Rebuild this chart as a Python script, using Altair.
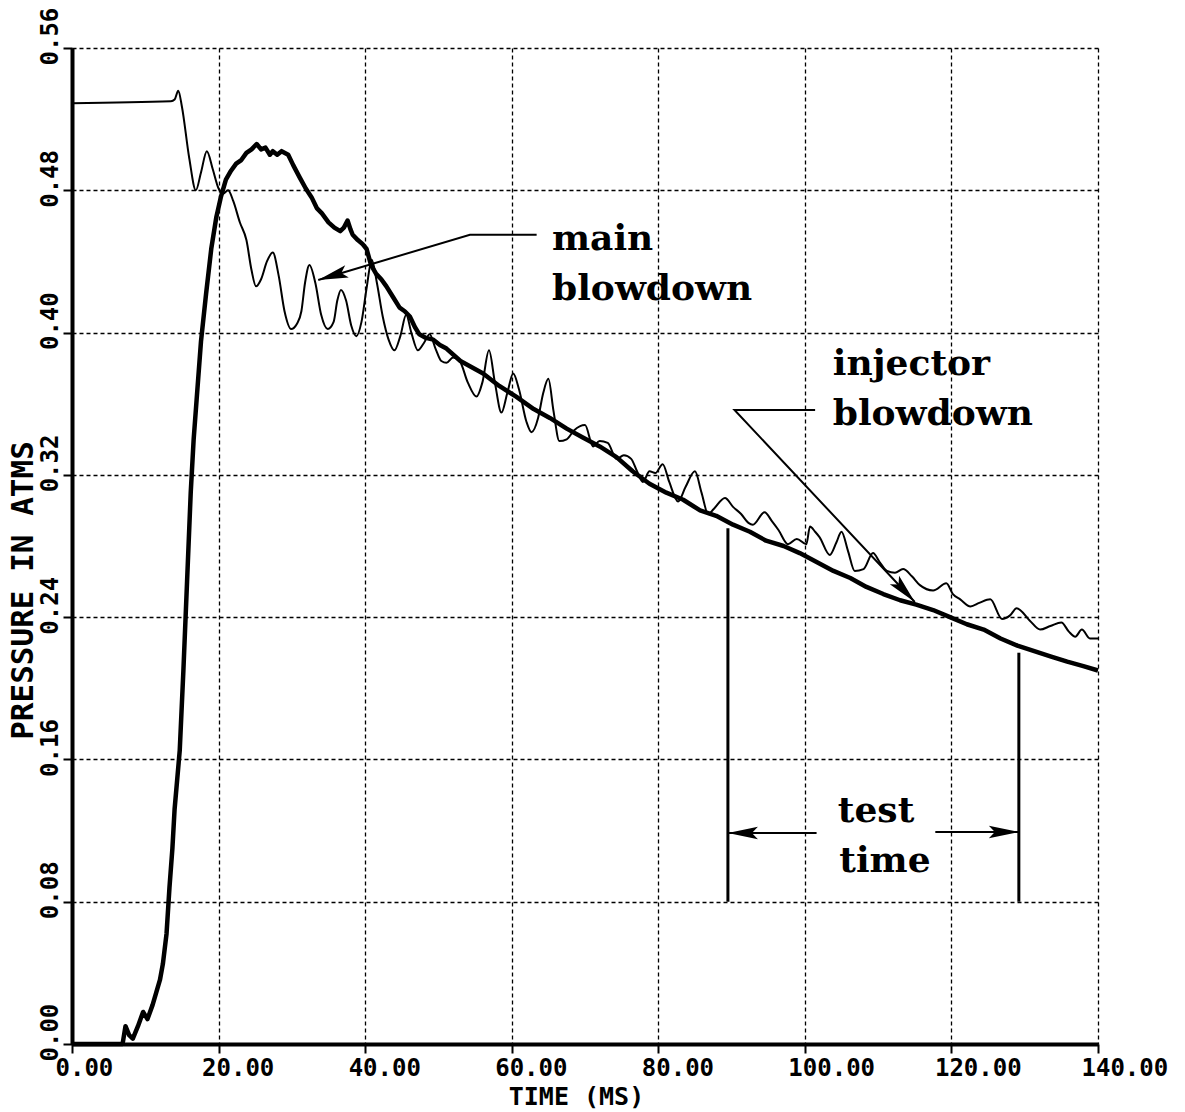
import altair as alt
import pandas as pd

# ---------------- data ----------------
# main blowdown (thin trace): time in ms, pressure in atm
main_t = [0, 13.5, 14.0, 14.5, 15.0, 16.0, 16.9, 17.6, 18.4, 19.2, 20.0, 20.6, 21.3, 22.0,
          22.9, 23.8, 24.5, 25.1, 25.8, 26.6, 27.4, 28.2, 29.0, 29.9, 30.7, 31.3, 31.8,
          32.4, 33.2, 34.0, 34.9, 35.7, 36.2, 36.7, 37.4, 38.1, 38.8, 39.5, 40.2, 40.9,
          41.6, 42.4, 43.2, 44.0, 44.8, 45.6, 46.3, 47.2, 48.0, 48.8, 49.6, 50.4, 51.1,
          52.0, 52.9, 54.0, 55.2, 56.0, 56.9, 57.7, 58.6, 59.4, 60.2, 61.0, 62.0, 62.7,
          63.6, 64.3, 65.0, 65.7, 66.5, 67.5, 68.5, 70.0, 71.1, 72.0, 73.1, 74.3, 75.3,
          76.3, 77.1, 77.9, 78.8, 79.6, 80.6, 81.5, 82.7, 83.7, 85.0, 85.9, 86.8, 87.6,
          89.1, 90.2, 91.3, 92.3, 92.9, 94.5, 95.5, 96.4, 97.7, 98.9, 100.2, 100.7,
          101.4, 102.0, 103.4, 104.3, 105.0, 105.9, 106.8, 108.0, 109.3, 110.2, 111.2,
          112.3, 113.4, 114.6, 115.7, 117.5, 119.3, 120.2, 121.2, 122.6, 123.8, 125.3,
          126.9, 128.0, 128.9, 130.7, 132.1, 133.5, 135.0, 136.0, 136.9, 137.8, 138.9,
          140.0]
main_p = [0.529, 0.530, 0.531, 0.536, 0.527, 0.498, 0.480, 0.490, 0.502, 0.492, 0.481,
          0.478, 0.480, 0.474, 0.462, 0.452, 0.435, 0.426, 0.430, 0.440, 0.445, 0.432,
          0.412, 0.402, 0.405, 0.412, 0.428, 0.438, 0.428, 0.410, 0.402, 0.406, 0.418,
          0.424, 0.418, 0.404, 0.398, 0.406, 0.425, 0.441, 0.428, 0.409, 0.396, 0.390,
          0.398, 0.410, 0.400, 0.390, 0.394, 0.399, 0.391, 0.384, 0.383, 0.386, 0.384,
          0.372, 0.364, 0.372, 0.390, 0.372, 0.355, 0.366, 0.377, 0.368, 0.350, 0.344,
          0.352, 0.366, 0.374, 0.356, 0.339, 0.340, 0.345, 0.348, 0.336, 0.339, 0.338,
          0.329, 0.331, 0.329, 0.322, 0.316, 0.322, 0.321, 0.326, 0.316, 0.305, 0.313,
          0.322, 0.310, 0.298, 0.301, 0.307, 0.302, 0.298, 0.293, 0.292, 0.299, 0.294,
          0.289, 0.281, 0.284, 0.281, 0.291, 0.288, 0.285, 0.275, 0.282, 0.288, 0.277,
          0.266, 0.267, 0.276, 0.271, 0.266, 0.265, 0.267, 0.263, 0.258, 0.255, 0.259,
          0.253, 0.250, 0.246, 0.248, 0.250, 0.239, 0.241, 0.245, 0.238, 0.233, 0.235,
          0.237, 0.232, 0.229, 0.233, 0.228, 0.228]

# injector blowdown (thick trace)
inj_t = [0, 6.9, 7.3, 7.8, 8.3, 9.0, 9.7, 10.3, 11.0, 11.5, 12.0, 12.4, 12.9, 13.3, 13.7,
         14.0, 14.7, 15.2, 15.7, 16.2, 16.6, 17.0, 17.6, 18.3, 19.0, 19.7, 20.3, 21.0,
         21.7, 22.4, 23.1, 23.8, 24.5, 25.2, 25.8, 26.4, 27.0, 27.4, 28.0, 28.6, 29.5,
         30.2, 31.1, 31.9, 32.7, 33.4, 34.1, 35.0, 35.8, 36.6, 37.1, 37.6, 38.0, 38.3,
         39.0, 39.6, 40.2, 40.8, 41.5, 42.2, 42.9, 43.8, 44.7, 45.4, 46.1, 46.8, 47.4,
         48.3, 49.3, 50.2, 51.1, 53.0, 56.1, 58.3, 60.6, 63.0, 65.2, 67.5, 69.7, 72.0,
         74.3, 76.5, 78.8, 81.1, 83.4, 85.7, 87.9, 90.2, 92.5, 94.7, 97.1, 99.3, 101.6,
         103.9, 106.2, 108.4, 110.7, 113.0, 115.2, 117.5, 119.8, 122.1, 124.4, 126.7,
         129.0, 131.2, 133.5, 135.8, 138.0, 140.0]
inj_p = [0.0, 0.0, 0.010, 0.005, 0.003, 0.010, 0.018, 0.014, 0.022, 0.029, 0.036, 0.045,
         0.062, 0.088, 0.110, 0.132, 0.165, 0.210, 0.260, 0.310, 0.340, 0.362, 0.395,
         0.422, 0.447, 0.465, 0.476, 0.486, 0.491, 0.495, 0.497, 0.501, 0.503, 0.506,
         0.503, 0.504, 0.500, 0.502, 0.500, 0.502, 0.500, 0.494, 0.487, 0.481, 0.476,
         0.470, 0.467, 0.462, 0.459, 0.457, 0.459, 0.463, 0.458, 0.455, 0.452, 0.450,
         0.447, 0.438, 0.433, 0.430, 0.426, 0.420, 0.414, 0.412, 0.409, 0.403, 0.399,
         0.397, 0.396, 0.393, 0.391, 0.384, 0.377, 0.370, 0.364, 0.357, 0.352, 0.346,
         0.341, 0.336, 0.330, 0.322, 0.315, 0.310, 0.306, 0.300, 0.297, 0.292, 0.288,
         0.283, 0.280, 0.276, 0.271, 0.266, 0.262, 0.257, 0.253, 0.2495, 0.247, 0.244,
         0.240, 0.236, 0.233, 0.228, 0.224, 0.221, 0.218, 0.215, 0.2125, 0.210]

x_ticks = [0, 20, 40, 60, 80, 100, 120, 140]
y_ticks = [0.0, 0.08, 0.16, 0.24, 0.32, 0.40, 0.48, 0.56]

# annotation texts (data coordinates of left end / baseline)
ann_text = ["main", "blowdown", "injector", "blowdown", "test", "time"]
ann_x = [65.5, 65.5, 103.8, 103.8, 104.5, 104.7]
ann_y = [0.4464, 0.4183, 0.3761, 0.3480, 0.1248, 0.0967]

# annotation arrow shafts (polylines)
arrow_id = ["main", "main", "main", "inj", "inj", "inj", "tl", "tl", "tr", "tr"]
arrow_x = [63.4, 54.3, 33.6, 101.4, 90.4, 115.0, 101.6, 89.5, 117.8, 129.2]
arrow_y = [0.455, 0.455, 0.4296, 0.3565, 0.3565, 0.2485, 0.1186, 0.1186, 0.1192, 0.1192]

# arrow tips and their pointing direction (degrees, clockwise from up)
tip_x = [33.6, 115.0, 89.5, 129.2]
tip_y = [0.4296, 0.2485, 0.1186, 0.1192]
tip_angle = [253.5, 137.3, 270, 90]

# test-time marker lines
test_x = [89.5, 129.2]
test_top = [0.290, 0.220]
test_bottom = [0.08, 0.08]

# ---------------- frames ----------------
main_df = pd.DataFrame({"t": main_t, "p": main_p})
inj_df = pd.DataFrame({"t": inj_t, "p": inj_p})
ann_df = pd.DataFrame({"text": ann_text, "x": ann_x, "y": ann_y})
arr_df = pd.DataFrame({"g": arrow_id, "x": arrow_x, "y": arrow_y,
                       "o": list(range(len(arrow_x)))})
tip_df = pd.DataFrame({"x": tip_x, "y": tip_y, "a": tip_angle})
test_df = pd.DataFrame({"x": test_x, "y": test_top, "y2": test_bottom})

MONO = "DejaVu Sans Mono"
SERIF = "DejaVu Serif"

xs = alt.Scale(domain=[0, 140], nice=False, zero=False)
ys = alt.Scale(domain=[0, 0.56], nice=False, zero=False)

x_axis = alt.Axis(
    values=x_ticks, format=".2f", title="TIME (MS)",
    grid=True, gridDash=[4, 3], gridColor="black", gridWidth=1.3, gridOpacity=1,
    domainColor="black", domainWidth=4,
    ticks=True, tickColor="black", tickSize=9, tickWidth=2,
    labelFont=MONO, labelFontWeight="bold", labelFontSize=24, labelColor="black",
    labelAlign="left", labelBaseline="top", labelOffset=-17, labelPadding=3,
    labelFlush=False, labelOverlap=False,
    titleFont=MONO, titleFontWeight="bold", titleFontSize=25, titleColor="black",
    titleX=504, titleY=60, titleAlign="center", titleBaseline="alphabetic",
)
y_axis = alt.Axis(
    values=y_ticks, format=".2f", title="PRESSURE IN ATMS",
    grid=True, gridDash=[4, 3], gridColor="black", gridWidth=1.3, gridOpacity=1,
    domainColor="black", domainWidth=4,
    ticks=True, tickColor="black", tickSize=9, tickWidth=2,
    labelFont=MONO, labelFontWeight="bold", labelFontSize=24, labelColor="black",
    labelAngle=270, labelAlign="left", labelBaseline="alphabetic",
    labelOffset=17, labelPadding=6, labelFlush=False, labelOverlap=False,
    titleFont=MONO, titleFontWeight="bold", titleFontSize=31, titleColor="black",
    titleAngle=270, titleX=-40, titleY=542, titleAlign="center",
    titleBaseline="alphabetic",
)

X = lambda f: alt.X(f, scale=xs, axis=x_axis)
Y = lambda f: alt.Y(f, scale=ys, axis=y_axis)

thin = alt.Chart(main_df).mark_line(color="black", strokeWidth=2, strokeJoin="round",
                                    interpolate="monotone").encode(
    x=X("t:Q"), y=Y("p:Q"),
)
thick = alt.Chart(inj_df).mark_line(color="black", strokeWidth=4.5, strokeJoin="round").encode(
    x=X("t:Q"), y=Y("p:Q"),
)
arrows = alt.Chart(arr_df).mark_line(color="black", strokeWidth=2).encode(
    x=X("x:Q"), y=Y("y:Q"),
    detail="g:N",
    order="o:Q",
)
ARROW = "M0,0L0.42,2L0,1.6L-0.42,2Z"
heads = alt.Chart(tip_df).mark_point(shape=ARROW, filled=True, color="black",
                                     opacity=1, size=900, strokeWidth=0).encode(
    x=X("x:Q"), y=Y("y:Q"),
    angle=alt.Angle("a:Q", scale=None),
)
rules = alt.Chart(test_df).mark_rule(color="black", strokeWidth=3).encode(
    x=X("x:Q"), y=Y("y:Q"),
    y2="y2:Q",
)
texts = alt.Chart(ann_df).mark_text(font=SERIF, fontWeight="bold", fontSize=36,
                                    align="left", baseline="alphabetic",
                                    color="black").encode(
    x=X("x:Q"), y=Y("y:Q"),
    text="text:N",
)

chart = alt.layer(thin, thick, arrows, rules, heads, texts).properties(
    width=1026, height=996,
    autosize=alt.AutoSizeParams(type="none"),
    padding={"left": 72, "top": 48, "right": 87, "bottom": 68},
    background="white",
).configure_view(stroke=None)

chart.save("out.html", embed_options={"renderer": "svg", "actions": False})
